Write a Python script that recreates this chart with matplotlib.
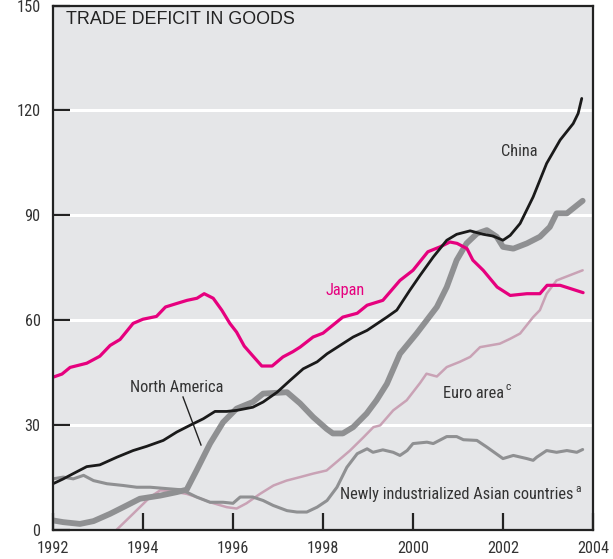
import matplotlib
matplotlib.use("Agg")
import matplotlib.pyplot as plt
from matplotlib import font_manager
from matplotlib.font_manager import FontProperties
import numpy as np

# ---- data (billions of US$) ----
japan_x = [1992.0, 1992.2, 1992.38, 1992.75, 1993.04, 1993.27, 1993.49, 1993.78, 1994.0, 1994.3,
           1994.5, 1994.75, 1994.98, 1995.2, 1995.36, 1995.56, 1995.75, 1995.93, 1996.08, 1996.25,
           1996.44, 1996.64, 1996.87, 1997.11, 1997.33, 1997.49, 1997.78, 1998.0, 1998.44, 1998.76,
           1998.98, 1999.33, 1999.71, 2000.0, 2000.33, 2000.6, 2000.82, 2000.98, 2001.2, 2001.33,
           2001.56, 2001.87, 2002.16, 2002.53, 2002.82, 2002.98, 2003.27, 2003.49, 2003.78]
japan_y = [43.6, 44.5, 46.4, 47.6, 49.6, 52.7, 54.4, 59.0, 60.2, 61.0,
           63.7, 64.7, 65.6, 66.2, 67.5, 66.2, 62.8, 59.0, 56.5, 52.5,
           49.7, 46.8, 46.8, 49.4, 50.9, 52.2, 55.1, 56.2, 60.8, 61.9,
           64.2, 65.6, 71.3, 74.2, 79.5, 80.9, 82.3, 81.9, 80.4, 77.1,
           74.2, 69.4, 67.0, 67.5, 67.5, 69.9, 69.9, 69.0, 67.8]

china_x = [1992.0, 1992.23, 1992.45, 1992.75, 1993.04, 1993.42, 1993.78, 1994.08, 1994.45, 1994.75,
           1995.04, 1995.34, 1995.6, 1995.86, 1996.08, 1996.44, 1996.67, 1996.98, 1997.27, 1997.56,
           1997.87, 1998.09, 1998.38, 1998.67, 1998.98, 1999.42, 1999.64, 1999.93, 2000.16, 2000.45,
           2000.75, 2000.97, 2001.27, 2001.56, 2001.78, 2002.0, 2002.16, 2002.38, 2002.67, 2002.97,
           2003.27, 2003.56, 2003.67, 2003.75]
china_y = [13.1, 14.5, 16.0, 18.0, 18.5, 20.7, 22.6, 23.8, 25.5, 27.9,
           29.8, 31.7, 33.8, 33.8, 34.1, 35.0, 36.5, 39.3, 42.7, 46.0,
           48.0, 50.3, 52.7, 55.1, 57.0, 60.8, 62.8, 68.5, 72.8, 78.0,
           82.8, 84.5, 85.5, 84.5, 84.0, 82.8, 84.2, 87.6, 95.2, 104.8,
           111.5, 116.2, 119.1, 123.4]

namerica_x = [1992.0, 1992.23, 1992.6, 1992.9, 1993.27, 1993.64, 1993.93, 1994.38, 1994.75, 1994.97,
              1995.19, 1995.49, 1995.78, 1996.08, 1996.44, 1996.67, 1997.2, 1997.49, 1997.78, 1998.08,
              1998.22, 1998.44, 1998.67, 1998.97, 1999.19, 1999.42, 1999.71, 2000.08, 2000.53, 2000.75,
              2000.97, 2001.19, 2001.42, 2001.64, 2001.86, 2002.0, 2002.23, 2002.53, 2002.82, 2003.04,
              2003.19, 2003.42, 2003.77]
namerica_y = [2.6, 2.1, 1.6, 2.4, 4.5, 6.9, 8.8, 9.7, 10.7, 11.4,
              16.9, 24.6, 30.7, 34.6, 36.5, 38.9, 39.3, 36.1, 32.2, 28.8,
              27.5, 27.5, 29.3, 33.2, 37.0, 41.7, 50.3, 56.1, 63.7, 69.4,
              77.1, 81.9, 84.7, 85.7, 83.8, 80.9, 80.4, 81.9, 83.8, 86.6,
              90.5, 90.5, 94.1]

euro_x = [1993.35, 1993.42, 1993.78, 1994.16, 1994.38, 1994.6, 1994.97, 1995.19, 1995.49, 1995.86,
          1996.08, 1996.3, 1996.6, 1996.9, 1997.19, 1997.49, 1997.78, 1998.08, 1998.3, 1998.6,
          1998.9, 1999.12, 1999.27, 1999.56, 1999.86, 2000.16, 2000.3, 2000.53, 2000.75, 2001.04,
          2001.27, 2001.49, 2001.71, 2001.93, 2002.16, 2002.38, 2002.67, 2002.82, 2002.97, 2003.19,
          2003.49, 2003.77]
euro_y = [-1.0, 0.0, 4.5, 9.3, 11.2, 11.0, 10.2, 9.3, 7.8, 6.4,
          6.0, 7.5, 10.2, 12.6, 14.0, 15.0, 16.0, 16.9, 19.3, 22.6,
          26.4, 29.3, 29.8, 34.1, 37.0, 42.0, 44.6, 43.8, 46.5, 48.0,
          49.4, 52.2, 52.7, 53.2, 54.6, 56.1, 60.8, 62.8, 67.5, 71.3,
          72.8, 74.2]

nie_x = [1992.0, 1992.23, 1992.45, 1992.68, 1992.9, 1993.2, 1993.56, 1993.86, 1994.16, 1994.53,
         1994.82, 1994.97, 1995.19, 1995.49, 1995.78, 1996.0, 1996.16, 1996.44, 1996.67, 1996.89,
         1997.2, 1997.42, 1997.64, 1997.87, 1998.09, 1998.31, 1998.53, 1998.76, 1998.98, 1999.11,
         1999.33, 1999.56, 1999.71, 1999.87, 2000.0, 2000.31, 2000.45, 2000.75, 2000.97, 2001.12,
         2001.42, 2001.64, 2002.0, 2002.23, 2002.53, 2002.67, 2002.75, 2002.97, 2003.19, 2003.42,
         2003.64, 2003.77]
nie_y = [14.5, 15.0, 14.5, 15.5, 14.0, 13.1, 12.6, 12.1, 12.1, 11.7,
         11.4, 10.7, 9.3, 7.8, 7.8, 7.5, 9.3, 9.3, 8.3, 6.9,
         5.4, 5.0, 5.0, 6.4, 8.3, 12.1, 17.8, 21.7, 23.1, 22.1,
         22.8, 22.1, 21.2, 22.6, 24.6, 25.0, 24.6, 26.6, 26.6, 25.7,
         25.5, 23.6, 20.3, 21.2, 20.3, 19.8, 20.7, 22.6, 22.1, 22.6,
         22.1, 22.9]

y_ticks = [0, 30, 60, 90, 120, 150]
x_ticks = [1992, 1994, 1996, 1998, 2000, 2002, 2004]
title_text = "TRADE DEFICIT IN GOODS"

# ---- pick a narrow/condensed font if one is installed ----
def find_narrow():
    prefs = ["Liberation Sans Narrow", "Roboto Condensed", "Open Sans Condensed",
             "DejaVu Sans Condensed", "Noto Sans Condensed"]
    entries = font_manager.fontManager.ttflist
    for p in prefs:
        for f in entries:
            if f.name == p and f.style == "normal" and f.weight in (400, "normal", "regular"):
                return FontProperties(fname=f.fname)
    for f in entries:
        st = str(f.stretch).lower()
        if (("narrow" in f.name.lower() or "condensed" in f.name.lower() or "condensed" in st)
                and f.style == "normal" and "bold" not in f.fname.lower()
                and "italic" not in f.fname.lower()):
            return FontProperties(fname=f.fname)
    return FontProperties(family="Roboto")

NARROW = find_narrow()
txtc = "#333333"

fig = plt.figure(figsize=(6.13, 5.59), dpi=100)
ax = fig.add_axes([53/613, 29.5/559, 540/613, 524/559])
ax.set_facecolor("#e5e6e8")
ax.set_xlim(1992, 2004)
ax.set_ylim(0, 150)
renderer = fig.canvas.get_renderer()

def fitted_size(text, target_w, base=13.0, fp=NARROW):
    t = fig.text(0, 0, text, fontproperties=fp.copy())
    t.set_fontsize(base)
    w = t.get_window_extent(renderer).width
    t.remove()
    return base * target_w / w if w > 0 else base

for yv in y_ticks[1:-1]:
    ax.axhline(yv, color="white", lw=2.2, zorder=1)

ax.plot(euro_x, euro_y, color="#c9a2b5", lw=1.8, zorder=3, solid_capstyle="round")
ax.plot(nie_x, nie_y, color="#8f9092", lw=2.2, zorder=3, solid_capstyle="round")
ax.plot(namerica_x, namerica_y, color="#8f9092", lw=4.2, zorder=4, solid_capstyle="round")
ax.plot(japan_x, japan_y, color="#e6007e", lw=2.3, zorder=5, solid_capstyle="round")
ax.plot(china_x, china_y, color="#1a1a1a", lw=2.0, zorder=6, solid_capstyle="round")

for s in ax.spines.values():
    s.set_linewidth(1.6)
    s.set_color("#222222")
    s.set_zorder(10)

tick_fs = min(fitted_size("1992", 32), 15)
ax.set_yticks(y_ticks)
ax.set_yticklabels([str(v) for v in y_ticks])
ax.set_xticks(x_ticks)
ax.set_xticklabels([str(v) for v in x_ticks])
ax.tick_params(axis="both", direction="in", length=12, width=1.6, color="#222222",
               labelcolor=txtc)
ax.tick_params(axis="y", pad=9)
ax.tick_params(axis="x", pad=8)
for lab in ax.get_xticklabels() + ax.get_yticklabels():
    fp = NARROW.copy()
    fp.set_size(tick_fs)
    lab.set_fontproperties(fp)

def px(x, y):
    return (x / 613, 1 - y / 559)

# title
title_fp = FontProperties(family=["Liberation Sans", "DejaVu Sans"])
tsize = fitted_size(title_text, 229, base=12.5, fp=title_fp)
tfp = title_fp.copy(); tfp.set_size(tsize)
fig.text(*px(66, 20), title_text, fontproperties=tfp, color="#222222", va="center", ha="left")

lab_fs = min(fitted_size("Newly industrialized Asian countries", 233), 15)

def label(x, y, s, color=txtc, ha="center", size=None):
    fp = NARROW.copy(); fp.set_size(size if size else lab_fs)
    return fig.text(*px(x, y), s, fontproperties=fp, color=color, ha=ha, va="center")

label(519, 151, "China")
label(345, 290, "Japan", color="#e6007e")
label(177, 388, "North America")
label(504, 393, "Euro area", ha="right")
label(506, 387, "c", ha="left", size=lab_fs * 0.7)
label(573, 495, "Newly industrialized Asian countries", ha="right")
label(575, 489, "a", ha="left", size=lab_fs * 0.7)

# leader line for North America
fig.add_artist(plt.Line2D([183/613, 201/613], [1 - 397/559, 1 - 445/559], color="#222222", lw=1.0))

fig.savefig("out.png", dpi=100)
